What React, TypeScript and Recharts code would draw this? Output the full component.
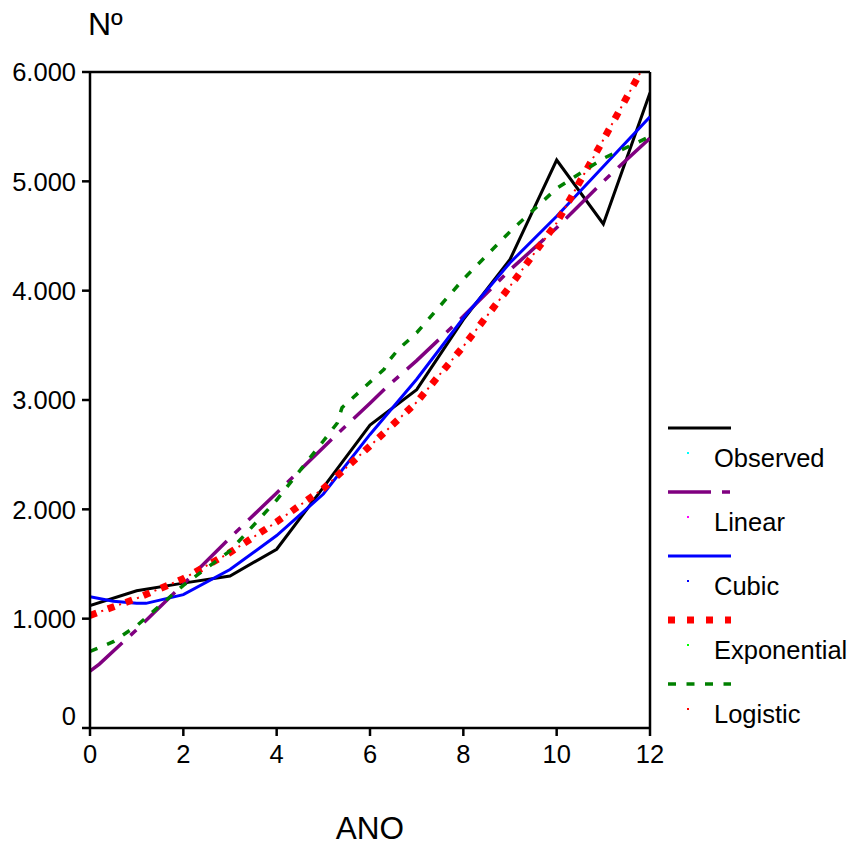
import React from 'react';
import { LineChart, Line, XAxis, YAxis, ReferenceLine } from 'recharts';

// ANO (x) e Nº (y)
const anos = [0, 1, 2, 3, 4, 5, 6, 7, 8, 9, 10, 11, 12];
const observado = [1120, 1255, 1325, 1390, 1635, 2200, 2770, 3095, 3735, 4285, 5195, 4610, 5810];

const linearX = [0, 0.2, 1, 2, 3, 4, 5, 5.3, 6, 6.4, 7, 8, 9, 10, 11, 12];
const linear = [520, 585, 900, 1315, 1740, 2150, 2565, 2690, 2970, 3135, 3360, 3765, 4190, 4575, 5000, 5395];

const cubicX = [0, 0.5, 1, 1.2, 2, 3, 4, 5, 6, 7, 8, 9, 10, 11, 12];
const cubic = [1200, 1160, 1140, 1140, 1220, 1450, 1760, 2140, 2685, 3190, 3750, 4255, 4680, 5135, 5590];

const exponencial = [1030, 1185, 1365, 1605, 1885, 2190, 2580, 2980, 3490, 4040, 4620, 5380, 6155];

const logisticX = [0, 0.5, 1, 2, 3, 4, 5, 5.3, 5.4, 6.3, 6.4, 6.6, 7, 8, 9, 10, 11, 12];
const logistic = [700, 790, 935, 1305, 1620, 2085, 2625, 2790, 2930, 3280, 3355, 3460, 3615, 4105, 4540, 4935, 5210, 5410];

const ticksX = [0, 2, 4, 6, 8, 10, 12];
const ticksY = [0, 1000, 2000, 3000, 4000, 5000, 6000];

const toRows = (xs: number[], ys: number[]) => xs.map((x, i) => ({ x, y: ys[i] }));

const series = [
  { nome: 'Observed', dados: toRows(anos, observado), cor: '#000000', largura: 3, dash: undefined, ponto: '#00ffff' },
  { nome: 'Linear', dados: toRows(linearX, linear), cor: '#800080', largura: 3.5, dash: '43 11 8 11', ponto: '#ff00ff' },
  { nome: 'Cubic', dados: toRows(cubicX, cubic), cor: '#0000ff', largura: 3, dash: undefined, ponto: '#0000ff' },
  { nome: 'Exponential', dados: toRows(anos, exponencial), cor: '#ff0000', largura: 7, dash: '7 12', ponto: '#00ff00' },
  { nome: 'Logistic', dados: toRows(logisticX, logistic), cor: '#008000', largura: 3.5, dash: '8 10.5', ponto: '#ff0000' },
];

const FONTE = '"Liberation Sans", Arial, sans-serif';
const TAM = 25.5;

const formatar = (v: number) =>
  v >= 1000 ? `${Math.floor(v / 1000)}.${String(v % 1000).padStart(3, '0')}` : String(v);

const TickY = (props: any) => {
  const { x, y, payload } = props;
  const ajuste = payload.value === 0 ? -12 : 0;
  return (
    <text x={x} y={y + ajuste} dy="0.36em" textAnchor="end" fontSize={TAM} fill="#000" fontFamily={FONTE}>
      {formatar(payload.value)}
    </text>
  );
};

const TickX = (props: any) => {
  const { x, y, payload } = props;
  return (
    <text x={x} y={y} dy="0.71em" textAnchor="middle" fontSize={TAM} fill="#000" fontFamily={FONTE}>
      {payload.value}
    </text>
  );
};

const Legenda = () => (
  <svg width={850} height={847} style={{ position: 'absolute', left: 0, top: 0, pointerEvents: 'none' }}>
    {series.map((s, i) => {
      const base = 467 + i * 64;
      return (
        <g key={s.nome}>
          <line x1={668} x2={731} y1={base - 39} y2={base - 39} stroke={s.cor} strokeWidth={s.largura} strokeDasharray={s.dash} />
          <rect x={687} y={base - 15} width={2} height={2} fill={s.ponto} />
          <text x={714} y={base} fontSize={TAM} fill="#000" fontFamily={FONTE}>{s.nome}</text>
        </g>
      );
    })}
  </svg>
);

export default function App() {
  return (
    <div style={{ position: 'absolute', left: 0, top: 0, width: 850, height: 847, background: '#fff' }}>
      <LineChart width={850} height={847} margin={{ top: 72, right: 200, bottom: 0, left: 0 }} style={{ fontFamily: FONTE }}>
        <XAxis
          type="number"
          dataKey="x"
          domain={[0, 12]}
          allowDataOverflow
          ticks={ticksX}
          height={119}
          tickSize={8}
          tickMargin={9}
          tick={<TickX />}
          stroke="#000"
          strokeWidth={2.5}
          label={{ value: 'ANO', position: 'insideBottom', offset: 8, fontSize: 31.5, fill: '#000' }}
        />
        <YAxis
          type="number"
          dataKey="y"
          domain={[0, 6000]}
          allowDataOverflow
          ticks={ticksY}
          width={90}
          tickSize={8}
          tickMargin={6}
          tick={<TickY />}
          stroke="#000"
          strokeWidth={2.5}
          label={{
            content: () => (
              <text x={88} y={35} fontSize={32} fill="#000" fontFamily={FONTE}>Nº</text>
            ),
          }}
        />
        <ReferenceLine y={6000} stroke="#000" strokeWidth={2.5} />
        <ReferenceLine x={12} stroke="#000" strokeWidth={2.5} />
        {series.map((s) => (
          <Line
            key={s.nome}
            data={s.dados}
            dataKey="y"
            name={s.nome}
            type="linear"
            stroke={s.cor}
            strokeWidth={s.largura}
            strokeDasharray={s.dash}
            dot={false}
            activeDot={false}
            isAnimationActive={false}
          />
        ))}
        {/* pontinhos entre os quadrados da exponencial */}
        <Line
          data={series[3].dados}
          dataKey="y"
          type="linear"
          stroke="#ff0000"
          strokeWidth={2}
          strokeDasharray="2 17"
          strokeDashoffset={7}
          dot={false}
          activeDot={false}
          legendType="none"
          isAnimationActive={false}
        />
      </LineChart>
      <Legenda />
    </div>
  );
}
